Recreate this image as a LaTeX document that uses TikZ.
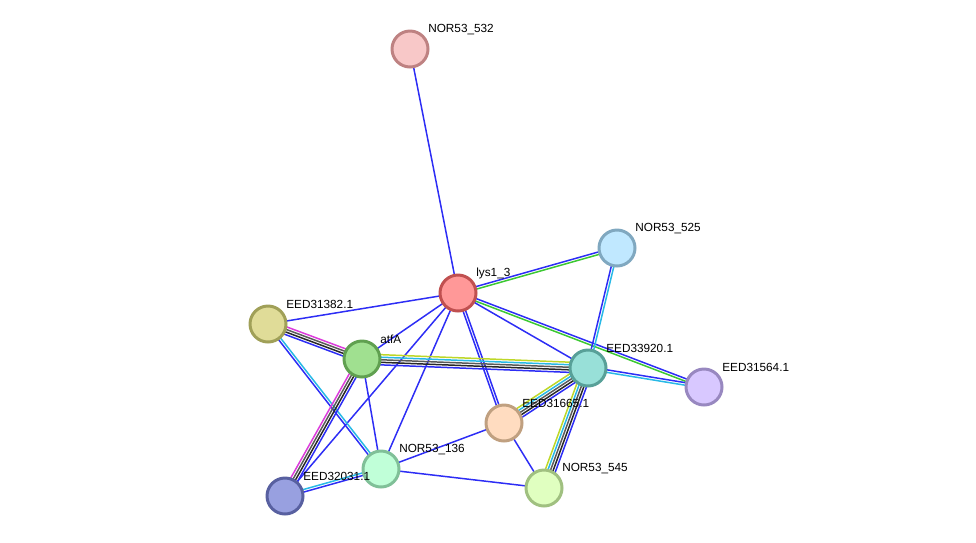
\documentclass[tikz,border=0pt]{standalone}
\usepackage{fontspec}
\setmainfont{Liberation Sans}
\usetikzlibrary{calc}
\pgfdeclarelayer{edges}
\pgfsetlayers{edges,main}

\definecolor{eblue}{RGB}{45,45,245}
\definecolor{egreen}{RGB}{60,200,50}
\definecolor{ecyan}{RGB}{40,185,230}
\definecolor{eyel}{RGB}{190,215,40}
\definecolor{emag}{RGB}{220,60,220}
\definecolor{egray}{RGB}{90,90,90}
\definecolor{eblack}{RGB}{40,40,40}
% node fill / rim
\definecolor{f532}{RGB}{248,200,200}\definecolor{d532}{RGB}{190,130,130}
\definecolor{flys}{RGB}{255,152,152}\definecolor{dlys}{RGB}{192,80,80}
\definecolor{f525}{RGB}{192,232,255}\definecolor{d525}{RGB}{128,168,192}
\definecolor{f382}{RGB}{224,220,152}\definecolor{d382}{RGB}{160,160,88}
\definecolor{fatf}{RGB}{160,224,144}\definecolor{datf}{RGB}{96,160,80}
\definecolor{f920}{RGB}{152,224,216}\definecolor{d920}{RGB}{88,160,152}
\definecolor{f564}{RGB}{216,200,255}\definecolor{d564}{RGB}{152,136,192}
\definecolor{f665}{RGB}{255,220,192}\definecolor{d665}{RGB}{192,160,128}
\definecolor{f136}{RGB}{192,255,216}\definecolor{d136}{RGB}{128,192,152}
\definecolor{f031}{RGB}{152,160,224}\definecolor{d031}{RGB}{88,96,160}
\definecolor{f545}{RGB}{224,255,192}\definecolor{d545}{RGB}{160,192,128}

% one line per evidence channel, side by side
\newcommand{\strlink}[3]{%
  \begin{pgfonlayer}{edges}
  \foreach \c/\o in {#3}
    \draw[link, \c] ($(#1.center)!\o*1.45pt!90:(#2.center)$) -- ($(#2.center)!\o*1.45pt!-90:(#1.center)$);
  \end{pgfonlayer}}

\begin{document}
\begin{tikzpicture}[x=0.02cm, y=-0.02cm,
        prot/.style={circle, draw=d#1, fill=f#1, line width=1.7pt,
            minimum size=0.72cm, inner sep=0pt},
        lbl/.style={anchor=west, inner sep=0pt, xshift=0.084cm, yshift=0.12cm,
            font=\fontsize{6.7pt}{8pt}\selectfont},
        link/.style={line width=0.85pt}]
\useasboundingbox (0,0) rectangle (976,542);

\node[prot=532, label={[lbl]north east:NOR53\_532}] (n532) at (410,49) {};
\node[prot=lys, label={[lbl]north east:lys1\_3}] (lys) at (458,293) {};
\node[prot=525, label={[lbl]north east:NOR53\_525}] (n525) at (617,248) {};
\node[prot=382, label={[lbl]north east:EED31382.1}] (e382) at (268,324) {};
\node[prot=atf, label={[lbl]north east:atfA}] (atfa) at (362,359) {};
\node[prot=920, label={[lbl]north east:EED33920.1}] (e920) at (588,368) {};
\node[prot=564, label={[lbl]north east:EED31564.1}] (e564) at (704,387) {};
\node[prot=665, label={[lbl]north east:EED31665.1}] (e665) at (504,423) {};
\node[prot=136, label={[lbl]north east:NOR53\_136}] (n136) at (381,469) {};
\node[prot=031, label={[lbl]north east:EED32031.1}] (e031) at (285,496) {};
\node[prot=545, label={[lbl]north east:NOR53\_545}] (n545) at (544,488) {};

\strlink{n532}{lys}{eblue/0}
\strlink{lys}{n525}{eblue/0.5, egreen/-0.5}
\strlink{lys}{e564}{eblue/0.5, egreen/-0.5}
\strlink{lys}{e920}{eblue/0}
\strlink{lys}{e382}{eblue/0}
\strlink{lys}{atfa}{eblue/0}
\strlink{lys}{e031}{eblue/0}
\strlink{lys}{n136}{eblue/0}
\strlink{lys}{e665}{eblue/0.5, eblue/-0.5}
\strlink{e382}{atfa}{emag/1.5, egray/0.5, eblack/-0.5, eblue/-1.5}
\strlink{e382}{n136}{ecyan/0.5, eblue/-0.5}
\strlink{atfa}{e920}{eyel/2, ecyan/1, egray/0, eblack/-1, eblue/-2}
\strlink{atfa}{e031}{emag/-1.5, egray/-0.5, eblack/0.5, eblue/1.5}
\strlink{atfa}{n136}{eblue/0}
\strlink{n525}{e920}{eblue/-0.5, ecyan/0.5}
\strlink{e920}{e564}{eblue/0.5, ecyan/-0.5}
\strlink{e920}{e665}{eyel/-2, ecyan/-1, egray/0, eblack/1, eblue/2}
\strlink{e920}{n545}{eyel/-2, ecyan/-1, egray/0, eblack/1, eblue/2}
\strlink{e665}{n545}{eblue/0}
\strlink{e665}{n136}{eblue/0}
\strlink{n136}{n545}{eblue/0}
\strlink{n136}{e031}{ecyan/-0.5, eblue/0.5}

\end{tikzpicture}
\end{document}
